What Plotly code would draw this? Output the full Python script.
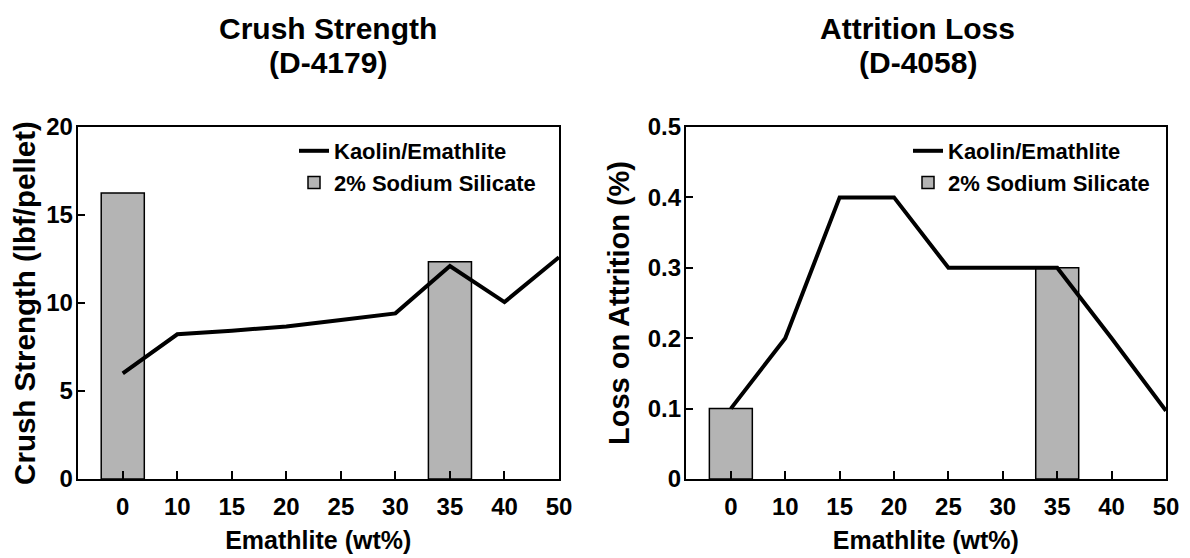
import plotly.graph_objects as go

# ---- data ----
categories = ['0', '10', '15', '20', '25', '30', '35', '40', '50']
crush_line = [6.0, 8.22, 8.43, 8.67, 9.04, 9.41, 12.1, 10.05, 12.6]
bar_categories = ['0', '35']
crush_bar = [16.25, 12.35]
attrition_line = [0.1, 0.2, 0.4, 0.4, 0.3, 0.3, 0.3, 0.2, 0.097]
attrition_bar = [0.1, 0.3]

line_name = 'Kaolin/Emathlite'
bar_name = '2% Sodium Silicate'
title_lines = [['Crush Strength', '(D-4179)'], ['Attrition Loss', '(D-4058)']]
y_titles = ['Crush Strength (lbf/pellet)', 'Loss on Attrition (%)']
x_title = 'Emathlite (wt%)'

FONT = 'Liberation Sans, Arial, sans-serif'
BAR_COLOR = '#b4b4b4'
# page body has an 8px margin; the figure fills the rest of the 1190x558 window
OFF = 8
W, H = 1190 - OFF, 558 - OFF

fig = go.Figure()

for i, (lv, bv) in enumerate([(crush_line, crush_bar), (attrition_line, attrition_bar)]):
    sfx = '' if i == 0 else '2'
    leg = 'legend' if i == 0 else 'legend2'
    fig.add_trace(go.Scatter(
        x=categories, y=lv, mode='lines', name=line_name,
        line=dict(color='black', width=4),
        xaxis='x' + sfx, yaxis='y' + sfx, legend=leg,
    ))
    fig.add_trace(go.Bar(
        x=bar_categories, y=bv, name=bar_name, width=0.79,
        marker=dict(color=BAR_COLOR, line=dict(color='black', width=1.5)),
        xaxis='x' + sfx, yaxis='y' + sfx, legend=leg,
    ))

def px_x(p):
    return (p - OFF) / W

def px_y(p):
    return 1 - (p - OFF) / H

tick_font = dict(family=FONT, size=24, color='black', weight='bold')

common_x = dict(
    type='category', categoryorder='array', categoryarray=categories,
    range=[-0.83, 8], showline=True, mirror=True, linecolor='black', linewidth=1.5,
    ticks='inside', ticklen=8, tickwidth=1.5, tickcolor='black',
    showgrid=False, zeroline=False, tickfont=tick_font, automargin=False,
    ticklabelstandoff=5,
    title=dict(text=x_title, font=dict(family=FONT, size=25, color='black', weight='bold'), standoff=13),
)
common_y = dict(
    showline=True, mirror=True, linecolor='black', linewidth=1.5,
    ticks='inside', ticklen=8, tickwidth=1.5, tickcolor='black',
    showgrid=False, zeroline=False, tickfont=tick_font, automargin=False,
    ticklabelstandoff=-2,
)

ydom = [px_y(479), px_y(127)]
legend_font = dict(family=FONT, size=22, color='black', weight='bold')

fig.update_layout(
    width=W, height=H,
    margin=dict(l=0, r=0, t=0, b=0),
    paper_bgcolor='white', plot_bgcolor='white',
    font=dict(family=FONT, color='black'),
    barmode='overlay',
    xaxis=dict(common_x, domain=[px_x(77.5), px_x(559)], anchor='y'),
    yaxis=dict(common_y, domain=ydom, anchor='x', range=[0, 20], dtick=5,
               title=dict(text=y_titles[0], font=dict(family=FONT, size=29.5, color='black', weight='bold'), standoff=10)),
    xaxis2=dict(common_x, domain=[px_x(685.7), px_x(1166)], anchor='y2'),
    yaxis2=dict(common_y, domain=ydom, anchor='x2', range=[0, 0.5], dtick=0.1,
                title=dict(text=y_titles[1], font=dict(family=FONT, size=29, color='black', weight='bold'), standoff=10)),
    legend=dict(x=px_x(294), y=px_y(130), xanchor='left', yanchor='top',
                bgcolor='rgba(0,0,0,0)', font=legend_font, tracegroupgap=0),
    legend2=dict(x=px_x(908), y=px_y(130), xanchor='left', yanchor='top',
                 bgcolor='rgba(0,0,0,0)', font=legend_font, tracegroupgap=0),
    showlegend=True,
)

for lines, cx in zip(title_lines, [328, 917.5]):
    for txt, cy in zip(lines, [28, 63]):
        fig.add_annotation(
            text=txt, x=px_x(cx), y=px_y(cy), xref='paper', yref='paper',
            xanchor='center', yanchor='middle', showarrow=False, align='center',
            font=dict(family=FONT, size=30, color='black', weight='bold'),
        )

fig.write_html('out.html')
